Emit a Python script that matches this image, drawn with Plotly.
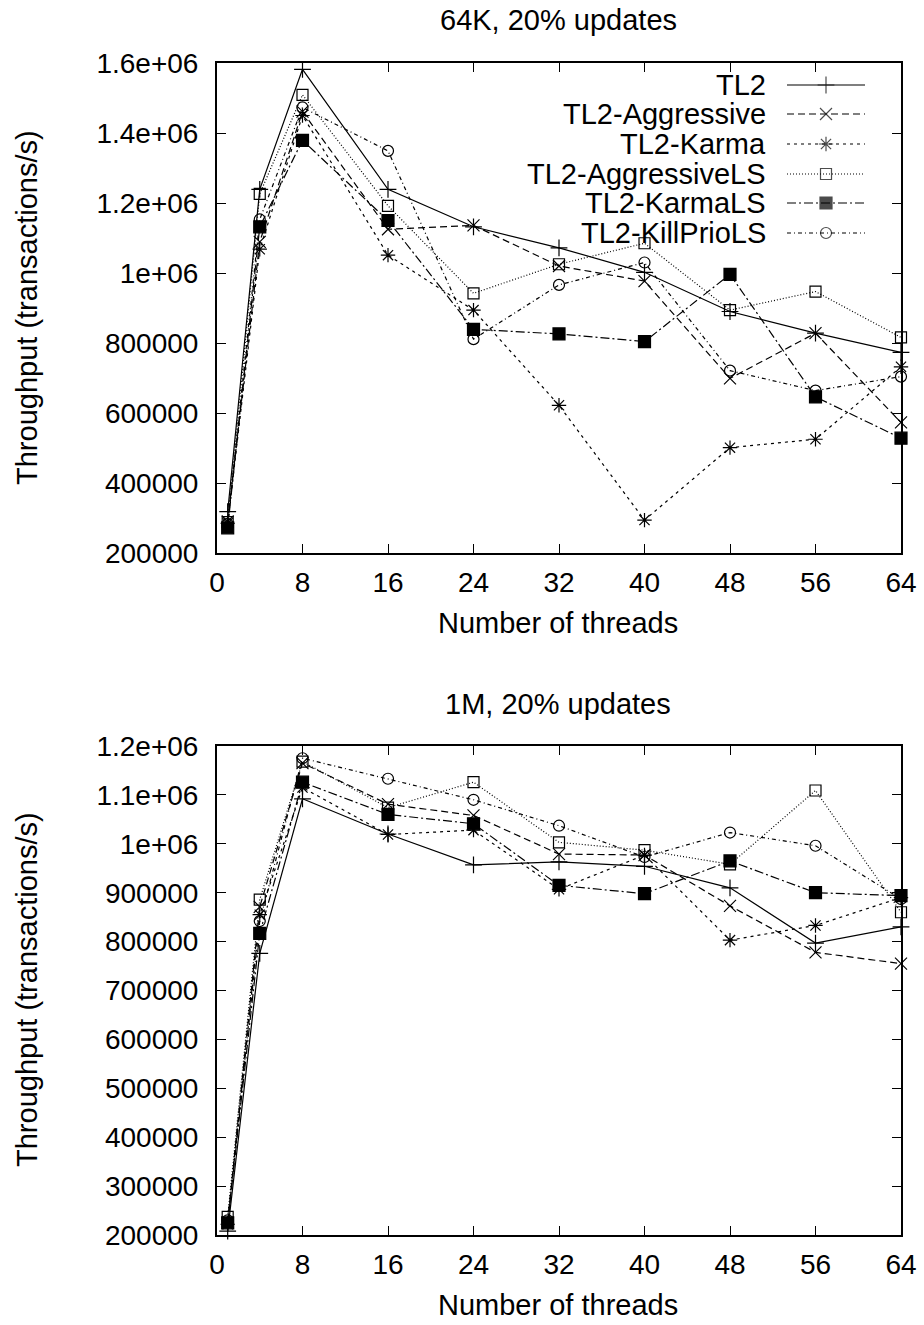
import plotly.graph_objects as go

threads = [1, 4, 8, 16, 24, 32, 40, 48, 56, 64]
series_names = ["TL2", "TL2-Aggressive", "TL2-Karma", "TL2-AggressiveLS", "TL2-KarmaLS", "TL2-KillPrioLS"]

# 64K, 20% updates
tl2_64k = [318000, 1239000, 1582000, 1239000, 1132000, 1072000, 1002000, 890000, 828000, 773000]
aggr_64k = [290000, 1089000, 1461000, 1125000, 1136000, 1020000, 977000, 699000, 828000, 573000]
karma_64k = [285000, 1068000, 1450000, 1051000, 894000, 622000, 294000, 501000, 525000, 732000]
aggrls_64k = [288000, 1226000, 1509000, 1192000, 942000, 1025000, 1085000, 894000, 947000, 816000]
karmals_64k = [272000, 1132000, 1379000, 1150000, 839000, 826000, 804000, 996000, 646000, 528000]
killprio_64k = [283000, 1153000, 1473000, 1349000, 811000, 966000, 1030000, 721000, 664000, 704000]

# 1M, 20% updates
tl2_1m = [208000, 776000, 1092000, 1020000, 957000, 963000, 954000, 910000, 797000, 830000]
aggr_1m = [225000, 871000, 1165000, 1081000, 1058000, 979000, 977000, 873000, 778000, 755000]
karma_1m = [222000, 855000, 1115000, 1019000, 1028000, 907000, 977000, 803000, 833000, 890000]
aggrls_1m = [237000, 886000, 1168000, 1074000, 1126000, 1003000, 987000, 958000, 1109000, 860000]
karmals_1m = [225000, 817000, 1126000, 1060000, 1041000, 915000, 898000, 965000, 900000, 894000]
killprio_1m = [230000, 842000, 1175000, 1133000, 1090000, 1037000, 973000, 1023000, 996000, 887000]

x_ticks = [0, 8, 16, 24, 32, 40, 48, 56, 64]
y_ticks_top = [200000, 400000, 600000, 800000, 1000000, 1200000, 1400000, 1600000]
y_labels_top = ["200000", "400000", "600000", "800000", "1e+06", "1.2e+06", "1.4e+06", "1.6e+06"]
y_ticks_bot = [200000, 300000, 400000, 500000, 600000, 700000, 800000, 900000, 1000000, 1100000, 1200000]
y_labels_bot = ["200000", "300000", "400000", "500000", "600000", "700000", "800000", "900000",
                "1e+06", "1.1e+06", "1.2e+06"]

titles = ["64K, 20% updates", "1M, 20% updates"]
x_title = "Number of threads"
y_title = "Throughput (transactions/s)"

W, H = 924, 1325
FONT = "Liberation Sans, Arial, Helvetica, sans-serif"
FS_TICK = 28
FS_TEXT = 29

styles = [
    dict(dash="solid", symbol="cross-thin-open", size=12),
    dict(dash="7px,4px", symbol="x-thin-open", size=12),
    dict(dash="3px,4px", symbol="asterisk-open", size=12),
    dict(dash="1px,2px", symbol="square-open", size=11),
    dict(dash="9px,3px,2px,3px", symbol="square", size=12),
    dict(dash="4px,3px,1px,3px", symbol="circle-open", size=11),
]

top_data = [tl2_64k, aggr_64k, karma_64k, aggrls_64k, karmals_64k, killprio_64k]
bot_data = [tl2_1m, aggr_1m, karma_1m, aggrls_1m, karmals_1m, killprio_1m]

fig = go.Figure()

for data, xa, ya in [(top_data, "x", "y"), (bot_data, "x2", "y2")]:
    for name, vals, st in zip(series_names, data, styles):
        fig.add_trace(go.Scatter(
            x=threads, y=vals, name=name, xaxis=xa, yaxis=ya, mode="lines+markers",
            line=dict(color="black", width=1.2, dash=st["dash"]),
            marker=dict(symbol=st["symbol"], size=st["size"], color="black",
                        line=dict(color="black", width=1.2)),
            cliponaxis=False, showlegend=False))

# gnuplot-style legend (text right, sample to the right) on a pixel overlay axis
leg_rows = [85, 114, 144, 174, 203, 233]
for name, st, yy in zip(series_names, styles, leg_rows):
    fig.add_trace(go.Scatter(
        x=[787, 826, 865], y=[yy, yy, yy], xaxis="x3", yaxis="y3", mode="lines+markers",
        line=dict(color="black", width=1.2, dash=st["dash"]),
        marker=dict(symbol=st["symbol"], size=[0, st["size"], 0], color="black",
                    line=dict(color="black", width=1.2)),
        cliponaxis=False, showlegend=False, hoverinfo="skip"))
    fig.add_annotation(x=768, y=yy, xref="x3", yref="y3", text=name, showarrow=False,
                       xanchor="right", yanchor="middle",
                       font=dict(family=FONT, size=FS_TEXT, color="black"))

def px_x(p):
    return p / W

def px_y(p):
    return 1 - p / H

axis_common = dict(showline=True, linewidth=2, linecolor="black", mirror="ticks",
                   ticks="inside", ticklen=9, tickwidth=1.2, tickcolor="black",
                   showgrid=False, zeroline=False, automargin=False,
                   tickfont=dict(family=FONT, size=FS_TICK, color="black"))

fig.update_layout(
    template="none",
    width=W, height=H, margin=dict(l=0, r=0, t=0, b=0, pad=0, autoexpand=False),
    paper_bgcolor="white", plot_bgcolor="rgba(0,0,0,0)", showlegend=False,
    font=dict(family=FONT, color="black"),
    xaxis=dict(domain=[px_x(217), px_x(901)], range=[0, 64], tickvals=x_ticks, anchor="y",
               ticklabelstandoff=3, **axis_common),
    yaxis=dict(domain=[px_y(553), px_y(63)], range=[200000, 1600000], tickvals=y_ticks_top,
               ticktext=y_labels_top, anchor="x", ticklabelstandoff=11, **axis_common),
    xaxis2=dict(domain=[px_x(217), px_x(901)], range=[0, 64], tickvals=x_ticks, anchor="y2",
                ticklabelstandoff=3, **axis_common),
    yaxis2=dict(domain=[px_y(1235), px_y(746)], range=[200000, 1200000], tickvals=y_ticks_bot,
                ticktext=y_labels_bot, anchor="x2", ticklabelstandoff=11, **axis_common),
    xaxis3=dict(domain=[0, 1], range=[0, W], visible=False, anchor="y3", fixedrange=True,
                automargin=False),
    yaxis3=dict(domain=[0, 1], range=[H, 0], visible=False, anchor="x3", fixedrange=True,
                automargin=False),
)

for t, yc in zip(titles, [20, 704]):
    fig.add_annotation(x=px_x(558), y=px_y(yc), xref="paper", yref="paper", text=t, showarrow=False,
                       xanchor="center", yanchor="middle",
                       font=dict(family=FONT, size=FS_TEXT, color="black"))
for yc in [623, 1305]:
    fig.add_annotation(x=px_x(558), y=px_y(yc), xref="paper", yref="paper", text=x_title, showarrow=False,
                       xanchor="center", yanchor="middle",
                       font=dict(family=FONT, size=FS_TEXT, color="black"))
for yc in [308, 990]:
    fig.add_annotation(x=px_x(27), y=px_y(yc), xref="paper", yref="paper", text=y_title, showarrow=False,
                       textangle=-90, xanchor="center", yanchor="middle",
                       font=dict(family=FONT, size=FS_TEXT, color="black"))

fig.write_html("out.html")
